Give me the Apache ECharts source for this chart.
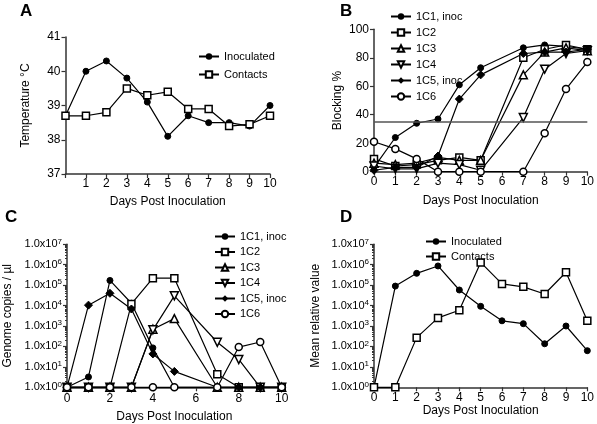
<!DOCTYPE html>
<html>
<head>
<meta charset="utf-8">
<script src="https://cdn.jsdelivr.net/npm/echarts@6/dist/echarts.min.js"></script>
<style>html,body{margin:0;padding:0;background:#fff}#c{width:597px;height:424px}</style>
</head>
<body>
<div id="c"></div>
<script>
// ---------- DATA ----------
const daysA = [0, 1, 2, 3, 4, 5, 6, 7, 8, 9, 10];
const tempInoculated = [38.7, 40.0, 40.3, 39.8, 39.1, 38.1, 38.7, 38.5, 38.5, 38.4, 39.0];
const tempContacts = [38.7, 38.7, 38.8, 39.5, 39.3, 39.4, 38.9, 38.9, 38.4, 38.45, 38.7];

const daysB = [0, 1, 2, 3, 4, 5, 7, 8, 9, 10];
const blocking1C1 = [3, 24, 34, 37, 61, 73, 87, 89, 88, 86];
const blocking1C2 = [9, 4, 5, 8, 10, 8, 80, 86, 89, 86];
const blocking1C3 = [6, 5, 6, 10, 8, 8, 68, 84, 87, 85];
const blocking1C4 = [4, 2, 2, 6, 5, 1, 38, 72, 83, 85];
const blocking1C5 = [1, 3, 3, 11, 51, 68, 83, 84, 84, 86];
const blocking1C6 = [21, 16, 9, 0, 0, 0, 0, 27, 58, 77];
const blockingThreshold = 35;

const daysC = [0, 1, 2, 3, 4, 5, 7, 8, 9, 10];
const copies1C1 = [1, 3.2, 1.7e5, 1.3e4, 85, 1, 1, 1, 1, 1];
const copies1C2 = [1, 1, 1, 1.2e4, 2.2e5, 2.2e5, 4.3, 1, 1, 1];
const copies1C3 = [1, 1, 1, 1, 700, 2.3e3, 1, 1, 1, 1];
const copies1C4 = [1, 1, 1, 1, 650, 3e4, 160, 23, 1, 1];
const copies1C5 = [1, 1.05e4, 4e4, 6.8e3, 43, 6, 1, 1, 1, 1];
const copies1C6 = [1, 1, 1, 1, 1, 1, 1, 93, 165, 1];

const daysD = [0, 1, 2, 3, 4, 5, 6, 7, 8, 9, 10];
const meanInoculated = [1, 9e4, 3.8e5, 8.7e5, 5.8e4, 9.2e3, 1.8e3, 1.3e3, 135, 1e3, 62];
const meanContacts = [1, 1, 270, 2.5e3, 5.9e3, 1.3e6, 1.15e5, 8.3e4, 3.7e4, 4.3e5, 1.8e3];

const namesB = ['1C1, inoc', '1C2', '1C3', '1C4', '1C5, inoc', '1C6'];
const namesAD = ['Inoculated', 'Contacts'];

// ---------- STYLE ----------
const FONT = 'Liberation Sans, Arial, sans-serif';
const AX = '#333';
const zip = (xs, ys) => xs.map((x, i) => [x, ys[i]]);
const triDown = 'path://M0,0L10,0L5,9Z';

const sym = {
  fill: { symbol: 'circle', symbolSize: 6, itemStyle: { color: '#000', borderColor: '#000' } },
  rect: { symbol: 'rect', symbolSize: 7, itemStyle: { color: '#fff', borderColor: '#000', borderWidth: 1.5 } },
  tri: { symbol: 'triangle', symbolSize: 8, itemStyle: { color: '#fff', borderColor: '#000', borderWidth: 1.5 } },
  triD: { symbol: triDown, symbolSize: 8, itemStyle: { color: '#fff', borderColor: '#000', borderWidth: 1.5 } },
  dia: { symbol: 'diamond', symbolSize: 8, itemStyle: { color: '#000', borderColor: '#000' } },
  ocirc: { symbol: 'circle', symbolSize: 7, itemStyle: { color: '#fff', borderColor: '#000', borderWidth: 1.5 } }
};
const symsB = [sym.fill, sym.rect, sym.tri, sym.triD, sym.dia, sym.ocirc];

function line(name, data, xi, s, extra) {
  return Object.assign({
    type: 'line', name, data, xAxisIndex: xi, yAxisIndex: xi,
    symbol: s.symbol, symbolSize: s.symbolSize, itemStyle: s.itemStyle,
    lineStyle: { color: '#000', width: 1.2 }, showAllSymbol: true, animation: false
  }, extra || {});
}

function xAx(gi, interval, nameGap, labelFmt, margin) {
  return {
    gridIndex: gi, type: 'value', min: 0, max: 10, interval,
    name: 'Days Post Inoculation', nameLocation: 'middle', nameGap,
    nameTextStyle: { fontFamily: FONT, fontSize: 12, color: '#000' },
    axisLine: { lineStyle: { color: AX, width: 1.5 } },
    axisTick: { show: true, length: 4, lineStyle: { color: AX, width: 1.2 } },
    axisLabel: { fontFamily: FONT, fontSize: 12, color: '#000', margin, formatter: labelFmt },
    splitLine: { show: false }
  };
}

const logFmt = v => {
  const e = Math.round(Math.log10(v));
  return '1.0x10{s|' + e + '}';
};
function yLog(gi, name, nameGap) {
  return {
    gridIndex: gi, type: 'log', logBase: 10, min: 1, max: 1e7,
    name, nameLocation: 'middle', nameGap,
    nameTextStyle: { fontFamily: FONT, fontSize: 12, color: '#000' },
    axisLine: { show: true, lineStyle: { color: AX, width: 1.5 } },
    axisTick: { show: true, length: 4, lineStyle: { color: AX, width: 1.2 } },
    minorTick: { show: true, splitNumber: 9, length: 2, lineStyle: { color: AX } },
    axisLabel: {
      fontFamily: FONT, fontSize: 11, color: '#000', margin: 5, formatter: logFmt,
      rich: { s: { fontSize: 8, fontFamily: FONT, verticalAlign: 'top', padding: [0, 0, 6, 0] } }
    },
    splitLine: { show: false }
  };
}
function yVal(gi, name, nameGap, min, max, interval) {
  return {
    gridIndex: gi, type: 'value', min, max, interval,
    name, nameLocation: 'middle', nameGap,
    nameTextStyle: { fontFamily: FONT, fontSize: 12, color: '#000' },
    axisLine: { show: true, lineStyle: { color: AX, width: 1.5 } },
    axisTick: { show: true, length: 4, lineStyle: { color: AX, width: 1.2 } },
    axisLabel: { fontFamily: FONT, fontSize: 12, color: '#000', margin: 5 },
    splitLine: { show: false }
  };
}

function legend(data, left, top, gap) {
  return {
    data, left, top, orient: 'vertical', itemGap: gap, itemWidth: 20, itemHeight: 8,
    textStyle: { fontFamily: FONT, fontSize: 11, color: '#000' },
    selectedMode: false
  };
}

const series = [];
// A
series.push(line(namesAD[0], zip(daysA, tempInoculated), 0, sym.fill));
series.push(line(namesAD[1], zip(daysA, tempContacts), 0, sym.rect));
// B
const bData = [blocking1C1, blocking1C2, blocking1C3, blocking1C4, blocking1C5, blocking1C6];
bData.forEach((d, i) => {
  const extra = i === 0 ? {
    markLine: {
      silent: true, symbol: 'none', label: { show: false },
      lineStyle: { color: '#555', width: 1.5, type: 'solid' },
      data: [{ yAxis: blockingThreshold }]
    }
  } : {};
  series.push(line(namesB[i], zip(daysB, d), 1, symsB[i], extra));
});
// C
const cData = [copies1C1, copies1C2, copies1C3, copies1C4, copies1C5, copies1C6];
cData.forEach((d, i) => {
  series.push(line(namesB[i], zip(daysC, d), 2, symsB[i]));
});
// D
series.push(line(namesAD[0], zip(daysD, meanInoculated), 3, sym.fill));
series.push(line(namesAD[1], zip(daysD, meanContacts), 3, sym.rect));

const option = {
  animation: false,
  backgroundColor: '#fff',
  grid: [
    { left: 65.5, top: 37, width: 204.5, height: 137 },
    { left: 374, top: 29.3, width: 214, height: 142.4 },
    { left: 67, top: 244.3, width: 214.7, height: 143 },
    { left: 374, top: 244.3, width: 214, height: 143 }
  ],
  xAxis: [
    xAx(0, 1, 22, v => (v === 0 ? '' : v), 4),
    xAx(1, 1, 23, v => v, 4),
    xAx(2, 2, 23, v => v, 5),
    xAx(3, 1, 11, v => v, 4)
  ],
  yAxis: [
    yVal(0, 'Temperature °C', 34, 37, 41, 1),
    yVal(1, 'Blocking %', 30, 0, 100, 20),
    yLog(2, 'Genome copies / µl', 53),
    yLog(3, 'Mean relative value', 52)
  ],
  legend: [
    legend(namesAD, 193, 46, 7),
    legend(namesB, 385, 6, 5),
    legend(namesB, 209, 226, 4.5),
    legend(namesAD, 420, 231, 4)
  ],
  graphic: [
    { type: 'text', left: 20, top: 3, style: { text: 'A', font: 'bold 17px ' + FONT, fill: '#000' } },
    { type: 'text', left: 340, top: 3, style: { text: 'B', font: 'bold 17px ' + FONT, fill: '#000' } },
    { type: 'text', left: 5, top: 209, style: { text: 'C', font: 'bold 17px ' + FONT, fill: '#000' } },
    { type: 'text', left: 340, top: 209, style: { text: 'D', font: 'bold 17px ' + FONT, fill: '#000' } }
  ],
  series
};

const chart = echarts.init(document.getElementById('c'), null, { renderer: 'canvas' });
chart.setOption(option);
</script>
</body>
</html>
